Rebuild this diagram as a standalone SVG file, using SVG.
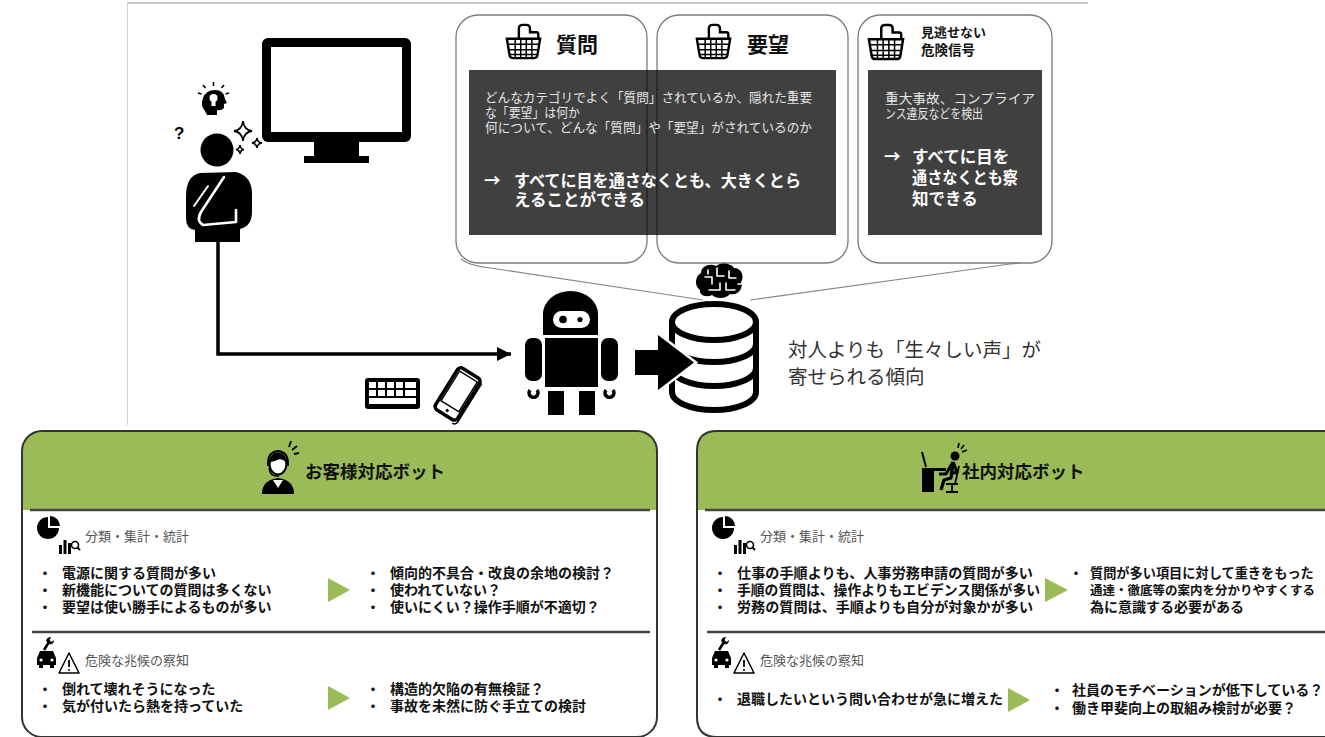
<svg xmlns="http://www.w3.org/2000/svg" width="1325" height="737" viewBox="0 0 1325 737">
<defs>
<style>
  .t{font-family:"Liberation Sans","Noto Sans CJK JP",sans-serif}
  .cj{font-family:"Noto Sans CJK JP","Liberation Sans",sans-serif}
  .sm{font-size:13px;fill:#e6e6e6}
  .bw{font-size:16.5px;font-weight:700;fill:#fff}
  .ttl{font-weight:700;fill:#111}
  .bl{font-size:14px;font-weight:700;fill:#111}
  .lab{font-size:13px;fill:#555}
  .voice{font-size:19.5px;fill:#333}
  .card{fill:#fff;stroke:#7a7a7a;stroke-width:1.3}
  .shade{fill:#000;fill-opacity:.75}
  .tail{fill:none;stroke:#888;stroke-width:1.2}
  .panel{fill:none;stroke:#333;stroke-width:2}
  .hdr{fill:#9BBB59}
  .rule{stroke:#444;stroke-width:2.5}
  .tri{fill:#9BBB59}
  .ink{fill:#000}
  .wline{fill:none;stroke:#fff;stroke-linecap:round;stroke-linejoin:round}
</style>
<marker id="ah" markerUnits="userSpaceOnUse" markerWidth="16" markerHeight="14" refX="14" refY="7" orient="auto">
  <path d="M0,0 L14,7 L0,14 Z" fill="#000"/>
</marker>
<!-- shopping basket icon -->
<symbol id="basket" viewBox="0 0 40 40">
  <path d="M15,17 V6 Q15,2 19,2 H23 Q27,2 27,6 V10 H34 Q36,10 36,12 V17" fill="none" stroke="#000" stroke-width="2.6"/>
  <path d="M2,17 H38 L35,35 Q34.5,38 31,38 H9 Q5.5,38 5,35 Z" fill="#fff" stroke="#000" stroke-width="2.6"/>
  <path d="M3.5,23 H36.5 M4.5,29 H35.5 M4.5,34 H35.5 M11,17 V38 M17,17 V38 M23,17 V38 M29,17 V38" stroke="#000" stroke-width="1.6"/>
</symbol>
<!-- pie + bar chart icon -->
<symbol id="stats" viewBox="0 0 45 40">
  <path d="M11,13 V2 A11,11 0 1 0 22,13 Z" fill="#000"/>
  <path d="M13,11 V1 A10,10 0 0 1 23,11 Z" fill="#000"/>
  <rect x="22" y="30" width="3" height="9" fill="#000"/>
  <rect x="26.5" y="25" width="3" height="14" fill="#000"/>
  <rect x="31" y="28" width="3" height="11" fill="#000"/>
  <circle cx="38" cy="30" r="3.5" fill="none" stroke="#000" stroke-width="1.6"/>
  <path d="M40.5,32.5 L43,35" stroke="#000" stroke-width="2"/>
</symbol>
<!-- car with wrench + warning icon -->
<symbol id="hazard" viewBox="0 0 45 40">
  <path d="M1,22 L4,15 H17 L20,22 V29 H1 Z" fill="#000"/>
  <rect x="3" y="28" width="4" height="4" fill="#000"/>
  <rect x="14" y="28" width="4" height="4" fill="#000"/>
  <circle cx="5" cy="24" r="1.6" fill="#fff"/>
  <circle cx="16" cy="24" r="1.6" fill="#fff"/>
  <path d="M8,14 L13,6" stroke="#000" stroke-width="2.6" fill="none"/>
  <path d="M10,5 Q11,1 15,1 L13.5,4 L15.5,6 L18,4 Q18,8 14,8.5 Z" fill="#000"/>
  <path d="M33,17 L43,37 H23 Z" fill="#fff" stroke="#000" stroke-width="1.5" stroke-linejoin="round"/>
  <path d="M33,24 V31" stroke="#000" stroke-width="1.8"/>
  <circle cx="33" cy="34" r="1" fill="#000"/>
</symbol>
</defs>

<rect width="1325" height="737" fill="#fff"/>

<!-- page frame lines -->
<g id="frame">
  <line x1="127" y1="3" x2="1088" y2="3" stroke="#c8c8c8" stroke-width="2"/>
  <line x1="127.5" y1="3" x2="127.5" y2="425" stroke="#d4d4d4" stroke-width="1"/>
</g>

<!-- user thinking in front of a monitor -->
<g id="user">
  <rect x="262" y="38" width="149" height="104" rx="6" class="ink"/>
  <rect x="271" y="47" width="131" height="85" fill="#fff"/>
  <rect x="314" y="141" width="45" height="16" class="ink"/>
  <rect x="304" y="156" width="65" height="7" class="ink"/>

  <circle cx="217" cy="150" r="16.5" class="ink"/>
  <path d="M200,173 Q186,176 186,196 V218 Q186,229 195,230 V242 H240 V229 Q252,226 252,212 V194 Q252,176 236,172 Z" class="ink"/>
  <path d="M224,177 L201,212 Q196,221 203,225 L236,222 V210" class="wline" stroke-width="2.6"/>
  <path d="M208,186 L194,206" class="wline" stroke-width="2"/>

  <!-- idea head -->
  <path d="M205,111 Q200,106 203,98 Q206,90 215,90 Q224,90 225,99 L227,103 L224,104 V108 Q221,111 217,110 V115 H207 Z" class="ink"/>
  <circle cx="213.5" cy="98" r="4" fill="#fff"/>
  <rect x="211.5" y="101" width="4" height="5" fill="#fff"/>
  <path d="M213.5,82 V86 M203,85 L205.5,88 M224,85 L221.5,88 M198,93 L201.5,94 M229,93 L225.5,94" stroke="#000" stroke-width="1.6"/>
  <text x="174" y="139" class="t" font-size="17" font-weight="700" fill="#000">?</text>
  <!-- sparkles -->
  <path d="M243,121 Q244,130 252,131 Q244,132 243,141 Q242,132 234,131 Q242,130 243,121 Z" fill="#fff" stroke="#000" stroke-width="1.8"/>
  <path d="M257,138 Q257.5,142.5 262,143 Q257.5,143.5 257,148 Q256.5,143.5 252,143 Q256.5,142.5 257,138 Z" fill="#fff" stroke="#000" stroke-width="1.6"/>
  <path d="M240,145 Q240.5,149 244,149.5 Q240.5,150 240,154 Q239.5,150 236,149.5 Q239.5,149 240,145 Z" fill="#fff" stroke="#000" stroke-width="1.6"/>
</g>

<!-- callout tails from the three cards to the knowledge store -->
<g id="tails">
  <path d="M461,259 Q470,266 490,268 L703,300" class="tail"/>
  <path d="M1040,257 Q1030,262 1010,264 L750,300" class="tail"/>
</g>

<g id="card-question">
  <rect x="456" y="15" width="191" height="248" rx="22" class="card"/>
  <use href="#basket" x="505" y="23" width="37" height="37"/>
  <text x="556" y="52" class="t ttl" font-size="21">質問</text>
</g>
<g id="card-request">
  <rect x="657" y="15" width="191" height="248" rx="22" class="card"/>
  <use href="#basket" x="695" y="23" width="37" height="37"/>
  <text x="747" y="52" class="t ttl" font-size="21">要望</text>
</g>
<g id="card-alert">
  <rect x="858" y="15" width="194" height="248" rx="22" class="card"/>
  <use href="#basket" x="867" y="23" width="38" height="38"/>
  <text x="921" y="37" class="t ttl" font-size="13">見逃せない</text>
  <text x="921" y="55" class="t ttl" font-size="13.5">危険信号</text>
</g>

<!-- shaded summaries laid over the cards -->
<g id="summary-left">
  <rect x="469" y="70" width="367" height="165" class="shade"/>
  <text x="485" y="102" class="t sm" textLength="327" lengthAdjust="spacingAndGlyphs">どんなカテゴリでよく「質問」されているか、隠れた重要</text>
  <text x="485" y="117" class="t sm" textLength="95" lengthAdjust="spacingAndGlyphs">な「要望」は何か</text>
  <text x="485" y="132" class="t sm" textLength="327" lengthAdjust="spacingAndGlyphs">何について、どんな「質問」や「要望」がされているのか</text>
  <text x="484" y="187" class="cj bw">→</text>
  <text x="514" y="187" class="t bw" textLength="287" lengthAdjust="spacingAndGlyphs">すべてに目を通さなくとも、大きくとら</text>
  <text x="514" y="206" class="t bw" textLength="131" lengthAdjust="spacingAndGlyphs">えることができる</text>
</g>
<g id="summary-right">
  <rect x="868" y="70" width="174" height="165" class="shade"/>
  <text x="885" y="103" class="t sm" textLength="150" lengthAdjust="spacingAndGlyphs">重大事故、コンプライア</text>
  <text x="885" y="118" class="t sm" textLength="98" lengthAdjust="spacingAndGlyphs">ンス違反などを検出</text>
  <text x="884" y="163" class="cj bw">→</text>
  <text x="912" y="163" class="t bw">すべてに目を</text>
  <text x="912" y="184" class="t bw" textLength="106" lengthAdjust="spacingAndGlyphs">通さなくとも察</text>
  <text x="912" y="205" class="t bw">知できる</text>
</g>

<!-- input devices -->
<g id="devices">
  <rect x="365" y="378" width="55" height="31" rx="3" class="ink"/>
  <g fill="#fff">
    <rect x="369" y="382" width="7" height="6"/><rect x="378" y="382" width="7" height="6"/><rect x="387" y="382" width="7" height="6"/><rect x="396" y="382" width="7" height="6"/><rect x="405" y="382" width="11" height="6"/>
    <rect x="369" y="390" width="7" height="6"/><rect x="378" y="390" width="7" height="6"/><rect x="387" y="390" width="7" height="6"/><rect x="396" y="390" width="7" height="6"/><rect x="405" y="390" width="11" height="6"/>
    <rect x="369" y="398" width="47" height="6"/>
  </g>
  <g transform="rotate(32 457 393)">
    <rect x="445" y="369" width="26" height="49" rx="4" fill="#fff" stroke="#000" stroke-width="3.5"/>
    <rect x="447.5" y="373" width="21" height="35" fill="#fff" stroke="#000" stroke-width="1.5"/>
    <circle cx="458" cy="413" r="1.6" class="ink"/>
    <path d="M473,372 V417 Q473,421 469,421" fill="none" stroke="#000" stroke-width="1.5"/>
  </g>
</g>

<!-- chat bot -->
<g id="bot">
  <path d="M543,335 V314 A27.5,23 0 0 1 598,314 V335 Z" class="ink"/>
  <rect x="553" y="311" width="37" height="17" rx="8.5" fill="#fff"/>
  <circle cx="563" cy="319.5" r="3.8" class="ink"/>
  <circle cx="580" cy="319.5" r="2.6" class="ink"/>
  <rect x="545" y="338" width="53" height="49" class="ink"/>
  <rect x="525" y="338" width="17" height="43" rx="7" class="ink"/>
  <rect x="601" y="338" width="17" height="43" rx="7" class="ink"/>
  <path d="M530,390 A4.5,4.5 0 1 0 537,390" fill="none" stroke="#000" stroke-width="3.5"/>
  <path d="M606,390 A4.5,4.5 0 1 0 613,390" fill="none" stroke="#000" stroke-width="3.5"/>
  <rect x="548" y="391" width="16" height="24" class="ink"/>
  <rect x="579" y="391" width="16" height="24" class="ink"/>
</g>

<!-- knowledge store with AI brain -->
<g id="store">
  <path d="M700,290 C694,286 695,276 701,273 C701,266 710,263 716,266 C721,262 731,263 734,268 C741,268 745,276 741,282 C744,289 737,296 730,294 C726,299 716,299 712,295 C706,298 699,295 700,290 Z" class="ink"/>
  <path d="M705,277 H712 V284 M708,270 V274 M717,268 V276 H724 M729,271 V278 H736 M709,290 H720 V283 M726,283 V290 H735 M738,284 H741" class="wline" stroke-width="1.6"/>

  <g fill="none" stroke="#000" stroke-width="6">
    <ellipse cx="714" cy="322" rx="42" ry="18"/>
    <path d="M672,322 V392 A42,18 0 0 0 756,392 V322"/>
    <path d="M672,344 A42,18 0 0 0 756,344"/>
    <path d="M672,368 A42,18 0 0 0 756,368"/>
  </g>
  <path d="M635,350 H658 V335 L694,362.5 L658,390 V375 H635 Z" fill="#000" stroke="#fff" stroke-width="5" paint-order="stroke"/>
  <text x="788" y="357" class="t voice">対人よりも「生々しい声」が</text>
  <text x="788" y="384" class="t voice">寄せられる傾向</text>
</g>

<g id="connectors">
  <path d="M218,242 V354 H511" fill="none" stroke="#000" stroke-width="3.5" marker-end="url(#ah)"/>
</g>

<!-- customer support bot panel -->
<g id="panel-customer">
  <path d="M22,510 V451 Q22,431 42,431 H637 Q657,431 657,451 V510 Z" class="hdr"/>
  <rect x="22" y="431" width="635" height="306" rx="20" class="panel"/>
  <line x1="30" y1="510" x2="650" y2="510" class="rule"/>
  <!-- operator icon -->
  <g>
    <ellipse cx="278" cy="464" rx="8.5" ry="10.5" fill="#fff" stroke="#000" stroke-width="2.2"/>
    <path d="M270,462 Q271,453 278,453 Q286,453 286,462 Q281,457 275,461 Z" class="ink"/>
    <path d="M268,466 Q267,452 278,451 Q289,452 288,466" fill="none" stroke="#000" stroke-width="1.8"/>
    <path d="M269,468 Q270,477 279,476" fill="none" stroke="#000" stroke-width="1.5"/>
    <path d="M262,494 Q262,480 278,478 Q294,480 294,494 Z" class="ink"/>
    <path d="M273,480 L278,488 L283,480" fill="#fff"/>
    <path d="M289,447 L291,441 M292,450 L297,446 M294,454 L299,453" stroke="#000" stroke-width="1.8"/>
  </g>
  <text x="305" y="478" class="t ttl" font-size="17.5">お客様対応ボット</text>

  <use href="#stats" x="37" y="515" width="45" height="40"/>
  <text x="85" y="541" class="t lab">分類・集計・統計</text>
  <g class="t bl">
    <text x="38" y="578">・</text><text x="62" y="578">電源に関する質問が多い</text>
    <text x="38" y="595">・</text><text x="62" y="595">新機能についての質問は多くない</text>
    <text x="38" y="612">・</text><text x="62" y="612">要望は使い勝手によるものが多い</text>
    <text x="366" y="578">・</text><text x="390" y="578">傾向的不具合・改良の余地の検討？</text>
    <text x="366" y="595">・</text><text x="390" y="595">使われていない？</text>
    <text x="366" y="612">・</text><text x="390" y="612">使いにくい？操作手順が不適切？</text>
  </g>
  <path d="M328,578 L350,590 L328,602 Z" class="tri"/>
  <line x1="32" y1="632" x2="650" y2="632" class="rule"/>

  <use href="#hazard" x="36" y="636" width="45" height="40"/>
  <text x="85" y="665" class="t lab">危険な兆候の察知</text>
  <g class="t bl">
    <text x="38" y="694">・</text><text x="62" y="694">倒れて壊れそうになった</text>
    <text x="38" y="711">・</text><text x="62" y="711">気が付いたら熱を持っていた</text>
    <text x="366" y="694">・</text><text x="390" y="694">構造的欠陥の有無検証？</text>
    <text x="366" y="711">・</text><text x="390" y="711">事故を未然に防ぐ手立ての検討</text>
  </g>
  <path d="M328,686 L350,698 L328,710 Z" class="tri"/>
</g>

<!-- internal support bot panel -->
<g id="panel-internal">
  <path d="M697,510 V451 Q697,431 717,431 H1340 V510 Z" class="hdr"/>
  <path d="M1340,431 H717 Q697,431 697,451 V717 Q697,737 717,737 H1340" class="panel"/>
  <line x1="705" y1="510" x2="1325" y2="510" class="rule"/>
  <!-- office worker icon -->
  <g>
    <rect x="922" y="470" width="12" height="22" class="ink"/>
    <rect x="922" y="468" width="24" height="3" class="ink"/>
    <path d="M926,467 L922,452" stroke="#000" stroke-width="2"/>
    <circle cx="955" cy="456" r="4.5" class="ink"/>
    <path d="M953,462 L946,474 L939,474 M953,462 L951,478 L944,480 L941,490 M953,462 L957,472 L950,474" fill="none" stroke="#000" stroke-width="3.2" stroke-linejoin="round"/>
    <path d="M959,466 L955,484 M946,484 L958,484 M952,484 V491 M946,492 H958" fill="none" stroke="#000" stroke-width="1.8"/>
    <path d="M958,448 L959,443 M961,449 L964,445 M962,452 L967,450" stroke="#000" stroke-width="1.6"/>
  </g>
  <text x="962" y="478" class="t ttl" font-size="17.5">社内対応ボット</text>

  <use href="#stats" x="712" y="515" width="45" height="40"/>
  <text x="760" y="541" class="t lab">分類・集計・統計</text>
  <g class="t bl">
    <text x="713" y="578">・</text><text x="737" y="578" textLength="296" lengthAdjust="spacingAndGlyphs">仕事の手順よりも、人事労務申請の質問が多い</text>
    <text x="713" y="595">・</text><text x="737" y="595" textLength="303" lengthAdjust="spacingAndGlyphs">手順の質問は、操作よりもエビデンス関係が多い</text>
    <text x="713" y="612">・</text><text x="737" y="612" textLength="296" lengthAdjust="spacingAndGlyphs">労務の質問は、手順よりも自分が対象かが多い</text>
    <text x="1069" y="578">・</text><text x="1090" y="578" font-size="13.2">質問が多い項目に対して重きをもった</text>
    <text x="1090" y="595" font-size="12.5">通達・徹底等の案内を分かりやすくする</text>
    <text x="1090" y="612">為に意識する必要がある</text>
  </g>
  <path d="M1045,578 L1068,590 L1045,602 Z" class="tri"/>
  <line x1="707" y1="632" x2="1325" y2="632" class="rule"/>

  <use href="#hazard" x="711" y="636" width="45" height="40"/>
  <text x="760" y="665" class="t lab">危険な兆候の察知</text>
  <g class="t bl">
    <text x="713" y="704">・</text><text x="737" y="704">退職したいという問い合わせが急に増えた</text>
    <text x="1050" y="695">・</text><text x="1072" y="695">社員のモチベーションが低下している？</text>
    <text x="1050" y="713">・</text><text x="1072" y="713">働き甲斐向上の取組み検討が必要？</text>
  </g>
  <path d="M1008,688 L1030,700 L1008,712 Z" class="tri"/>
</g>
</svg>
